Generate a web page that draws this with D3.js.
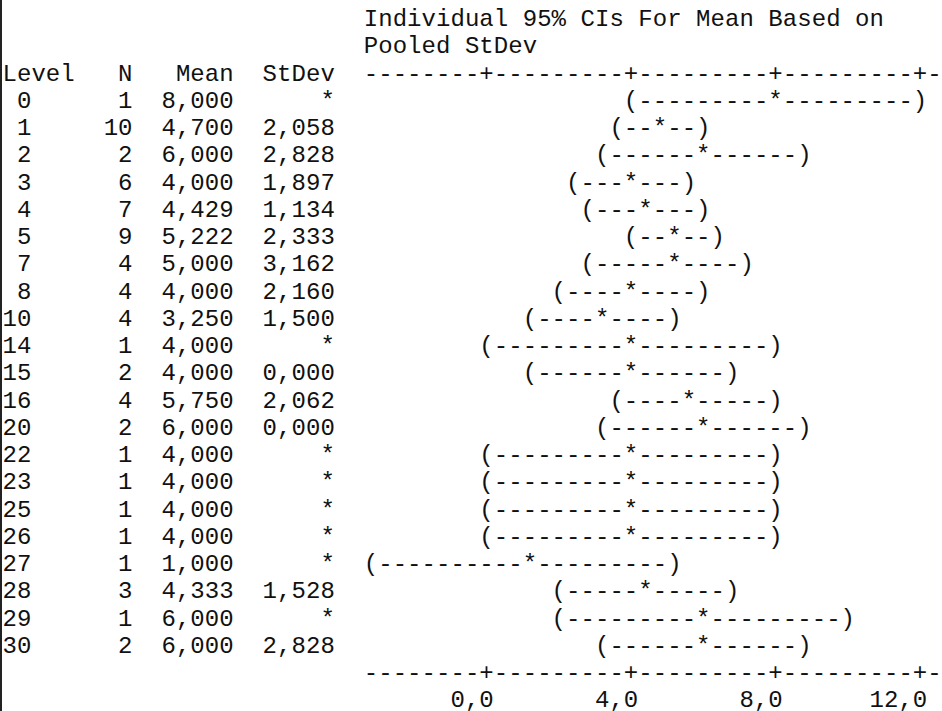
<!DOCTYPE html>
<html>
<head>
<meta charset="utf-8">
<script src="https://cdn.jsdelivr.net/npm/d3@7"></script>
<style>
  html, body { margin: 0; padding: 0; background: #fff; }
  svg { display: block; }
  text { font-family: "Courier New", "Liberation Mono", monospace; font-size: 24px; fill: #111; }
</style>
</head>
<body>
<svg id="chart" width="942" height="711"></svg>
<script>
var titleLines = ["Individual 95% CIs For Mean Based on", "Pooled StDev"];
var headers = ["Level", "N", "Mean", "StDev"];
var levels = ["0","1","2","3","4","5","7","8","10","14","15","16","20","22","23","25","26","27","28","29","30"];
var counts = [1,10,2,6,7,9,4,4,4,1,2,4,2,1,1,1,1,1,3,1,2];
var means  = [8.000,4.700,6.000,4.000,4.429,5.222,5.000,4.000,3.250,4.000,4.000,5.750,6.000,4.000,4.000,4.000,4.000,1.000,4.333,6.000,6.000];
var stdevs = [null,2.058,2.828,1.897,1.134,2.333,3.162,2.160,1.500,null,0.000,2.062,0.000,null,null,null,null,null,1.528,null,2.828];
var ciLow  = [3.89,3.40,3.10,2.32,2.88,3.85,2.95,1.95,1.20,-0.11,1.10,3.70,3.10,-0.11,-0.11,-0.11,-0.11,-3.11,1.96,1.89,3.10];
var ciHigh = [12.11,6.00,8.90,5.68,5.98,6.59,7.05,6.05,5.30,8.11,6.90,7.81,8.90,8.11,8.11,8.11,8.11,5.11,6.70,10.11,8.90];
var tickValues = [0, 4, 8, 12];
var tickLabels = ["0,0", "4,0", "8,0", "12,0"];

function draw() {
  var svg = d3.select("#chart");
  var cw = 14.45, x0 = 2.5, lh = 27.25, y0 = 26;

  // character grid
  var colX = d3.scaleLinear().domain([0, 1]).range([x0 + cw / 2, x0 + cw * 1.5]);
  var lineY = d3.scaleLinear().domain([0, 1]).range([y0, y0 + lh]);
  // value -> character column of the text plot
  var valCol = d3.scaleLinear().domain([0, 12]).range([33, 63]);
  var snap = function(v) { return Math.round(valCol(v) + 1e-6); };

  var fmt3 = function(v) { return d3.format(".3f")(v).replace(".", ","); };

  // put a string on the grid, one glyph per column
  function put(str, col, line) {
    var chars = str.split("");
    chars.forEach(function(ch, i) {
      if (ch === " ") return;
      svg.append("text")
        .attr("x", colX(col + i))
        .attr("y", lineY(line))
        .attr("text-anchor", "middle")
        .text(ch);
    });
  }
  function putRight(str, endCol, line) {
    put(str, endCol - str.length + 1, line);
  }

  // left frame edge
  svg.append("rect").attr("x", 0).attr("y", 0).attr("width", 2).attr("height", 711).style("fill", "#222");

  titleLines.forEach(function(t, i) { put(t, 25, i); });

  // header
  put(headers[0], 0, 2);
  putRight(headers[1], 8, 2);
  putRight(headers[2], 15, 2);
  putRight(headers[3], 22, 2);

  var tickCols = tickValues.map(snap);
  function axisLine(line) {
    var s = "";
    for (var c = 25; c <= 64; c++) s += tickCols.indexOf(c) >= 0 ? "+" : "-";
    put(s, 25, line);
  }
  axisLine(2);

  levels.forEach(function(lv, i) {
    var line = 3 + i;
    putRight(lv, 1, line);
    putRight(String(counts[i]), 8, line);
    putRight(fmt3(means[i]), 15, line);
    putRight(stdevs[i] === null ? "*" : fmt3(stdevs[i]), 22, line);

    var lo = snap(ciLow[i]), mid = snap(means[i]), hi = snap(ciHigh[i]);
    var s = "(";
    for (var c = lo + 1; c < hi; c++) s += (c === mid) ? "*" : "-";
    s += ")";
    put(s, lo, line);
  });

  var axisRow = 3 + levels.length;
  axisLine(axisRow);
  tickLabels.forEach(function(lb, i) {
    putRight(lb, tickCols[i], axisRow + 1);
  });
}

draw();
</script>
</body>
</html>
